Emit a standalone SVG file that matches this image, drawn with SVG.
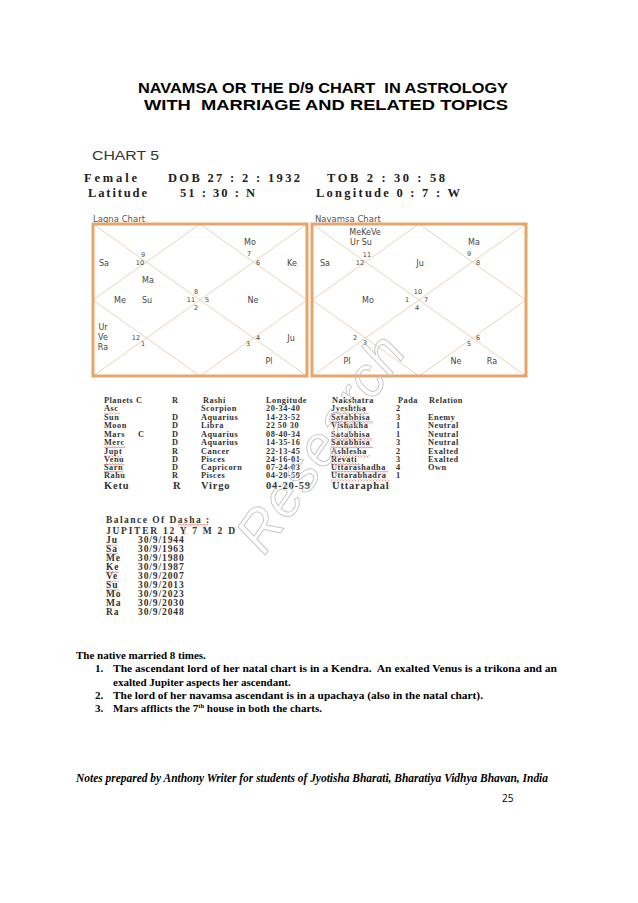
<svg xmlns="http://www.w3.org/2000/svg" width="638" height="903" viewBox="0 0 638 903">
<defs>
<pattern id="sq" width="3" height="2.4" patternUnits="userSpaceOnUse">
<path d="M0,2 L1.5,0.4 L3,2" fill="none" stroke="#d9534f" stroke-width="0.7"/>
</pattern>
</defs>
<style>
.title{font-family:"Liberation Sans",Arial,sans-serif;font-weight:bold;font-size:14px;fill:#000;white-space:pre}
.hdr{font-family:"Liberation Serif","Times New Roman",serif;font-weight:bold;font-size:12.5px;fill:#222}
.clab{font-family:"DejaVu Sans",Verdana,sans-serif;font-size:8.5px;fill:#555}
.box{fill:none;stroke:#E5A56B;stroke-width:3}
.ln{fill:none;stroke:#E7C6A6;stroke-width:0.8}
.pl{font-family:"DejaVu Sans",Verdana,sans-serif;font-size:8px;fill:#444;text-anchor:middle}
.hn{font-family:"DejaVu Sans",Verdana,sans-serif;font-size:6.5px;fill:#444;text-anchor:middle}
.tb{font-family:"Liberation Serif","Times New Roman",serif;font-weight:bold;font-size:8.3px;fill:#333;letter-spacing:0.5px}
.tbk{font-family:"Liberation Serif","Times New Roman",serif;font-weight:bold;font-size:10.5px;fill:#333;letter-spacing:0.8px}
.ds{font-family:"Liberation Serif","Times New Roman",serif;font-weight:bold;font-size:9.5px;fill:#333;letter-spacing:0.9px}
.body{font-family:"Liberation Serif","Times New Roman",serif;font-weight:bold;font-size:11px;fill:#000;white-space:pre}
.foot{font-family:"Liberation Serif","Times New Roman",serif;font-style:italic;font-weight:bold;font-size:11.5px;fill:#000}
.pg{font-family:"Open Sans","Liberation Sans",sans-serif;font-size:10px;fill:#000}
.wm{font-family:"Liberation Sans",Arial,sans-serif;font-size:56px;font-style:italic;fill:none;stroke:#c4c4c4;stroke-width:0.9}
.sq{fill:url(#sq)}
</style>
<rect width="638" height="903" fill="#fff"/>

<g id="title">
<text class="title" x="323" y="93" text-anchor="middle" textLength="370" lengthAdjust="spacingAndGlyphs">NAVAMSA OR THE D/9 CHART  IN ASTROLOGY</text>
<text class="title" x="326" y="110" text-anchor="middle" textLength="364" lengthAdjust="spacingAndGlyphs">WITH  MARRIAGE AND RELATED TOPICS</text>
</g>

<g id="header">
<text x="92" y="160" font-family="Liberation Sans, Arial, sans-serif" font-size="12.5" fill="#333" textLength="67" lengthAdjust="spacingAndGlyphs">CHART 5</text>
<text class="hdr" x="84" y="182" textLength="53" lengthAdjust="spacing">Female</text>
<text class="hdr" x="168" y="182" textLength="132" lengthAdjust="spacing">DOB  27 : 2 : 1932</text>
<text class="hdr" x="327" y="182" textLength="118" lengthAdjust="spacing">TOB   2 : 30 : 58</text>
<text class="hdr" x="88" y="197" textLength="59" lengthAdjust="spacing">Latitude</text>
<text class="hdr" x="180" y="197" textLength="75" lengthAdjust="spacing">51 : 30 : N</text>
<text class="hdr" x="316" y="197" textLength="144" lengthAdjust="spacing">Longitude  0 : 7 : W</text>
</g>

<g id="lagna-chart">
<text class="clab" x="93" y="222">Lagna Chart</text>
<path class="ln" d="M93,224 L307,376 M307,224 L93,376 M200,224 L307,300 L200,376 L93,300 Z"/>
<rect class="box" x="93" y="224" width="214" height="152"/>
<text class="pl" x="250" y="245">Mo</text>
<text class="pl" x="104" y="266">Sa</text>
<text class="hn" x="143" y="257">9</text>
<text class="hn" x="140" y="265">10</text>
<text class="hn" x="249" y="256">7</text>
<text class="hn" x="258" y="265">6</text>
<text class="pl" x="292" y="266">Ke</text>
<text class="pl" x="148" y="283">Ma</text>
<text class="pl" x="120" y="303">Me</text>
<text class="pl" x="147" y="303">Su</text>
<text class="hn" x="196" y="294">8</text>
<text class="hn" x="191" y="302">11</text>
<text class="hn" x="207" y="302">5</text>
<text class="hn" x="196" y="310">2</text>
<text class="pl" x="253" y="303">Ne</text>
<text class="pl" x="103" y="330">Ur</text>
<text class="pl" x="103" y="340">Ve</text>
<text class="pl" x="103" y="350">Ra</text>
<text class="hn" x="136" y="340">12</text>
<text class="hn" x="143" y="346">1</text>
<text class="hn" x="258" y="340">4</text>
<text class="hn" x="248" y="346">3</text>
<text class="pl" x="291" y="341">Ju</text>
<text class="pl" x="269" y="364">Pl</text>
</g>

<g id="navamsa-chart">
<text class="clab" x="315" y="222">Navamsa Chart</text>
<path class="ln" d="M312,224 L526,376 M526,224 L312,376 M419,224 L526,300 L419,376 L312,300 Z"/>
<rect class="box" x="312" y="224" width="214" height="152"/>
<text class="pl" x="365" y="235">MeKeVe</text>
<text class="pl" x="361" y="245">Ur Su</text>
<text class="pl" x="474" y="245">Ma</text>
<text class="pl" x="325" y="266">Sa</text>
<text class="hn" x="367" y="257">11</text>
<text class="hn" x="360" y="265">12</text>
<text class="pl" x="420" y="266">Ju</text>
<text class="hn" x="469" y="256">9</text>
<text class="hn" x="478" y="265">8</text>
<text class="pl" x="368" y="303">Mo</text>
<text class="hn" x="418" y="294">10</text>
<text class="hn" x="407" y="302">1</text>
<text class="hn" x="426" y="302">7</text>
<text class="hn" x="417" y="310">4</text>
<text class="hn" x="355" y="340">2</text>
<text class="hn" x="365" y="345">3</text>
<text class="hn" x="478" y="340">6</text>
<text class="hn" x="469" y="346">5</text>
<text class="pl" x="347" y="364">Pl</text>
<text class="pl" x="456" y="364">Ne</text>
<text class="pl" x="492" y="364">Ra</text>
</g>

<g id="planet-table">
<text class="tb" y="403"><tspan x="104">Planets C</tspan><tspan x="172">R</tspan><tspan x="203">Rashi</tspan><tspan x="266">Longitude</tspan><tspan x="332">Nakshatra</tspan><tspan x="398">Pada</tspan><tspan x="429">Relation</tspan></text>
<text class="tb" y="411"><tspan x="104">Asc</tspan><tspan x="201">Scorpion</tspan><tspan x="266">20-34-40</tspan><tspan x="331">Jyeshtha</tspan><tspan x="396">2</tspan></text>
<text class="tb" y="420"><tspan x="104">Sun</tspan><tspan x="172">D</tspan><tspan x="201">Aquarius</tspan><tspan x="266">14-23-52</tspan><tspan x="331">Satabhisa</tspan><tspan x="396">3</tspan><tspan x="428">Enemy</tspan></text>
<text class="tb" y="428"><tspan x="104">Moon</tspan><tspan x="172">D</tspan><tspan x="201">Libra</tspan><tspan x="266">22 50 30</tspan><tspan x="331">Vishakha</tspan><tspan x="396">1</tspan><tspan x="428">Neutral</tspan></text>
<text class="tb" y="437"><tspan x="104">Mars</tspan><tspan x="138">C</tspan><tspan x="172">D</tspan><tspan x="201">Aquarius</tspan><tspan x="266">08-40-34</tspan><tspan x="331">Satabhisa</tspan><tspan x="396">1</tspan><tspan x="428">Neutral</tspan></text>
<text class="tb" y="445"><tspan x="104">Merc</tspan><tspan x="172">D</tspan><tspan x="201">Aquarius</tspan><tspan x="266">14-35-16</tspan><tspan x="331">Satabhisa</tspan><tspan x="396">3</tspan><tspan x="428">Neutral</tspan></text>
<text class="tb" y="454"><tspan x="104">Jupt</tspan><tspan x="172">R</tspan><tspan x="201">Cancer</tspan><tspan x="266">22-13-45</tspan><tspan x="331">Ashlesha</tspan><tspan x="396">2</tspan><tspan x="428">Exalted</tspan></text>
<text class="tb" y="462"><tspan x="104">Venu</tspan><tspan x="172">D</tspan><tspan x="201">Pisces</tspan><tspan x="266">24-16-01</tspan><tspan x="331">Revati</tspan><tspan x="396">3</tspan><tspan x="428">Exalted</tspan></text>
<text class="tb" y="470"><tspan x="104">Sarn</tspan><tspan x="172">D</tspan><tspan x="201">Capricorn</tspan><tspan x="266">07-24-03</tspan><tspan x="331">Uttarashadha</tspan><tspan x="396">4</tspan><tspan x="428">Own</tspan></text>
<text class="tb" y="478"><tspan x="104">Rahu</tspan><tspan x="172">R</tspan><tspan x="201">Pisces</tspan><tspan x="266">04-20-59</tspan><tspan x="331">Uttarabhadra</tspan><tspan x="396">1</tspan></text>
<text class="tbk" y="489"><tspan x="104">Ketu</tspan><tspan x="173">R</tspan><tspan x="201">Virgo</tspan><tspan x="266">04-20-59</tspan><tspan x="332">Uttaraphal</tspan></text>
<rect class="sq" x="104" y="412" width="16" height="2.4"/>
<rect class="sq" x="104" y="446" width="21" height="2.4"/>
<rect class="sq" x="104" y="455" width="18" height="2.4"/>
<rect class="sq" x="104" y="463" width="20" height="2.4"/>
<rect class="sq" x="104" y="471" width="19" height="2.4"/>
<rect class="sq" x="331" y="412" width="38" height="2.4"/>
<rect class="sq" x="331" y="421" width="42" height="2.4"/>
<rect class="sq" x="331" y="438" width="42" height="2.4"/>
<rect class="sq" x="331" y="446" width="42" height="2.4"/>
<rect class="sq" x="331" y="455" width="39" height="2.4"/>
<rect class="sq" x="331" y="463" width="29" height="2.4"/>
<rect class="sq" x="331" y="471" width="57" height="2.4"/>
<rect class="sq" x="331" y="479" width="58" height="2.4"/>
</g>

<g id="dasha">
<text class="ds" x="106" y="523" textLength="104" lengthAdjust="spacing">Balance Of Dasha :</text>
<text class="ds" x="106" y="534" textLength="130" lengthAdjust="spacing">JUPITER 12 Y 7 M 2 D</text>
<text class="ds" y="543"><tspan x="106">Ju</tspan><tspan x="138">30/9/1944</tspan></text>
<text class="ds" y="552"><tspan x="106">Sa</tspan><tspan x="138">30/9/1963</tspan></text>
<text class="ds" y="561"><tspan x="106">Me</tspan><tspan x="138">30/9/1980</tspan></text>
<text class="ds" y="570"><tspan x="106">Ke</tspan><tspan x="138">30/9/1987</tspan></text>
<text class="ds" y="579"><tspan x="106">Ve</tspan><tspan x="138">30/9/2007</tspan></text>
<text class="ds" y="588"><tspan x="106">Su</tspan><tspan x="138">30/9/2013</tspan></text>
<text class="ds" y="597"><tspan x="106">Mo</tspan><tspan x="138">30/9/2023</tspan></text>
<text class="ds" y="606"><tspan x="106">Ma</tspan><tspan x="138">30/9/2030</tspan></text>
<text class="ds" y="615"><tspan x="106">Ra</tspan><tspan x="138">30/9/2048</tspan></text>
<rect class="sq" x="178" y="524" width="30" height="2.4"/>
<rect class="sq" x="106" y="544" width="12" height="2.4"/>
<rect class="sq" x="106" y="553" width="12" height="2.4"/>
<rect class="sq" x="106" y="571" width="13" height="2.4"/>
<rect class="sq" x="106" y="580" width="13" height="2.4"/>
<rect class="sq" x="106" y="589" width="13" height="2.4"/>
</g>

<g id="watermark">
<text class="wm" x="0" y="0" text-anchor="middle" textLength="250" lengthAdjust="spacing" transform="translate(336,454) rotate(-55)">Research</text>
</g>

<g id="notes">
<text class="body" x="76" y="659">The native married 8 times.</text>
<text class="body" x="95" y="672">1.</text>
<text class="body" x="113" y="672" textLength="444" lengthAdjust="spacingAndGlyphs">The ascendant lord of her natal chart is in a Kendra.  An exalted Venus is a trikona and an</text>
<text class="body" x="113" y="686">exalted Jupiter aspects her ascendant.</text>
<text class="body" x="95" y="699">2.</text>
<text class="body" x="113" y="699" textLength="370" lengthAdjust="spacingAndGlyphs">The lord of her navamsa ascendant is in a upachaya (also in the natal chart).</text>
<text class="body" x="95" y="712">3.</text>
<text class="body" x="113" y="712">Mars afflicts the 7<tspan font-size="6.5" dy="-4">th</tspan><tspan dy="4"> house in both the charts.</tspan></text>
</g>

<g id="footer">
<text class="foot" x="76" y="782" textLength="472" lengthAdjust="spacingAndGlyphs">Notes prepared by Anthony Writer for students of Jyotisha Bharati, Bharatiya Vidhya Bhavan, India</text>
<text class="pg" x="502" y="802">25</text>
</g>
</svg>
